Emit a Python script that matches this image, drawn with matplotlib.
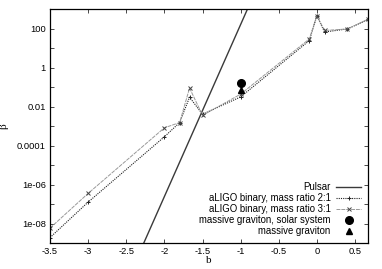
import matplotlib
matplotlib.use("Agg")
import matplotlib.pyplot as plt
from matplotlib.ticker import FixedLocator, FixedFormatter

# values
b_21 = [-3.5, -3.0, -2.0, -1.8, -1.67, -1.5, -1.0, -0.1, 0.0, 0.1, 0.4, 0.67]
beta_21 = [1.9e-9, 1.25e-7, 2.8e-4, 1.5e-3, 3.0e-2, 4.0e-3, 3.1e-2, 24.0, 450.0, 66.0, 95.0, 290.0]

b_31 = [-3.5, -3.0, -2.0, -1.8, -1.67, -1.5, -1.0, -0.1, 0.0, 0.1, 0.4, 0.67]
beta_31 = [5.8e-9, 3.5e-7, 8.1e-4, 1.5e-3, 8.9e-2, 3.5e-3, 4.3e-2, 29.0, 450.0, 79.0, 95.0, 290.0]

pulsar_b = [-2.27, -0.91]
pulsar_beta = [1e-9, 1e3]

solar_b = [-1.0]
solar_beta = [0.165]
graviton_b = [-1.0]
graviton_beta = [0.068]

xticks = [-3.5, -3.0, -2.5, -2.0, -1.5, -1.0, -0.5, 0.0, 0.5]
xticklabels = ["-3.5", "-3", "-2.5", "-2", "-1.5", "-1", "-0.5", "0", "0.5"]
ydecades = [1e-9, 1e-8, 1e-7, 1e-6, 1e-5, 1e-4, 1e-3, 1e-2, 1e-1, 1, 10, 100, 1000]
ylabels = ["", "1e-08", "", "1e-06", "", "0.0001", "", "0.01", "", "1", "", "100", ""]

fig = plt.figure(figsize=(3.82, 2.69), dpi=100)
ax = fig.add_axes([50 / 382, 1 - 243 / 269, 318 / 382, 234 / 269])

ax.plot(pulsar_b, pulsar_beta, color="#3a3a3a", lw=1.0, label="Pulsar")
ax.plot(b_21, beta_21, color="#222222", lw=0.8, ls=(0, (1, 1)), marker="+",
        ms=3, mew=0.7, label="aLIGO binary, mass ratio 2:1")
ax.plot(b_31, beta_31, color="#999999", lw=0.7, ls=(0, (4, 1)), marker="x",
        ms=2.5, mew=0.7, mec="#444444", label="aLIGO binary, mass ratio 3:1")
ax.plot(solar_b, solar_beta, ls="none", marker="o", ms=5.5, color="black",
        label="massive graviton, solar system")
ax.plot(graviton_b, graviton_beta, ls="none", marker="^", ms=5, color="black",
        label="massive graviton")

ax.set_yscale("log")
ax.set_xlim(-3.5, 0.67)
ax.set_ylim(1e-9, 1e3)

ax.xaxis.set_major_locator(FixedLocator(xticks))
ax.xaxis.set_major_formatter(FixedFormatter(xticklabels))
ax.yaxis.set_major_locator(FixedLocator(ydecades))
ax.yaxis.set_major_formatter(FixedFormatter(ylabels))
ax.yaxis.set_minor_locator(FixedLocator([]))
ax.tick_params(which="both", direction="in", top=True, right=True,
               length=3, width=0.5, labelsize=6.7, pad=3)
for lbl in ax.get_xticklabels() + ax.get_yticklabels():
    lbl.set_fontfamily("Liberation Sans")
for s in ax.spines.values():
    s.set_linewidth(0.9)

ax.set_xlabel("b", family="Liberation Serif", fontsize=8, labelpad=0)
ax.set_ylabel("β", family="Liberation Serif", fontsize=8, labelpad=6)

leg = ax.legend(loc="lower right", frameon=False, markerfirst=False,
                prop={"family": "Liberation Sans", "size": 6.9},
                handlelength=2.6, handletextpad=0.6, labelspacing=0.1,
                borderaxespad=0.3)

fig.savefig("out.png", dpi=100)
